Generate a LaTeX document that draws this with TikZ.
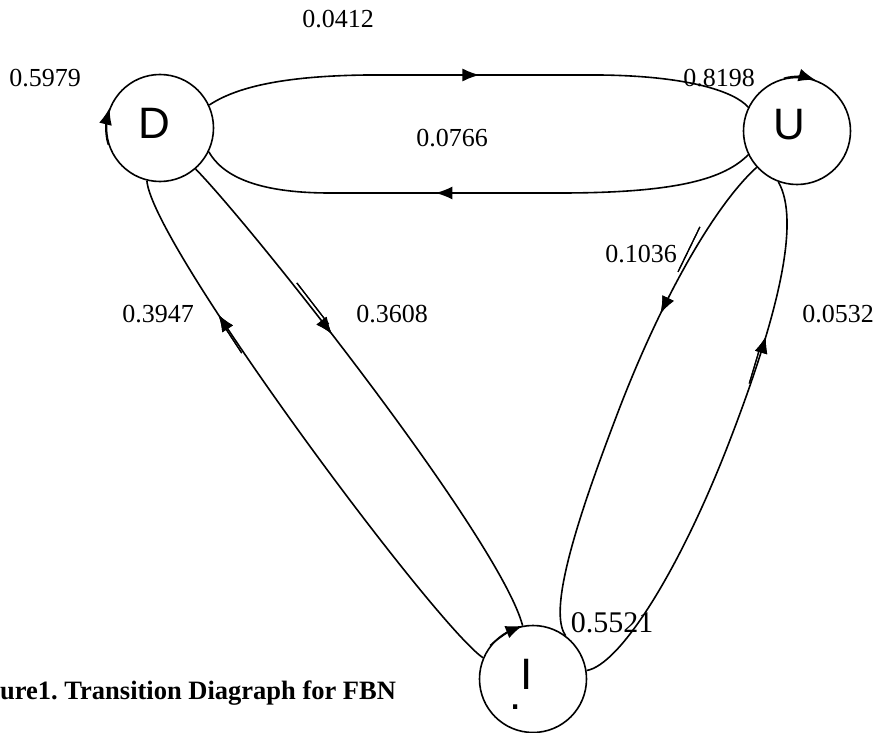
\documentclass[tikz,border=0pt]{standalone}
\usepackage{fontspec}
\setmainfont{Liberation Serif}
\newfontfamily\letterfont{Liberation Sans}
\usetikzlibrary{arrows.meta,decorations.markings}
\begin{document}
\begin{tikzpicture}[x=1pt,y=-1pt,
  state/.style={circle,draw,line width=1.6pt,minimum size=107pt,inner sep=0pt,
    text height=32pt,font=\letterfont\fontsize{44}{44}\selectfont},
  lbl/.style={font=\fontsize{26}{30}\selectfont,inner sep=0pt},
  edge/.style={line width=1.6pt},
  tipend/.style={-{Latex[length=17pt,width=13pt]}},
  midarrow/.style={postaction={decorate},decoration={markings,
    mark=at position #1 with {\arrow{Latex[length=17pt,width=13pt]}}}},
  twin/.style 2 args={postaction={decorate},decoration={markings,
    mark=at position #1 with {\draw[line width=1.2pt] #2;}}},
]
\useasboundingbox (0,0) rectangle (876,733);

% states
\node[state,text depth=10pt] (D) at (160,128) {\hspace*{-12pt}D};
\node[state,text depth=14pt] (U) at (797,131) {\hspace*{-16pt}U};
\node[state,text depth=12pt] (I) at (533,679) {\hspace*{-12pt}I};
\node[font=\letterfont\fontsize{44}{44}\selectfont,inner sep=0pt] (Idot) at (516,707) {.};

% D -> U (top)
\draw[edge,midarrow=0.50] (D.25) .. controls (235,88) and (280,76) .. (367,75)
  -- (600,75) .. controls (690,76) and (735,92) .. (U.154);
% U -> D (bottom)
\draw[edge,midarrow=0.573] (U.206) .. controls (725,178) and (680,193) .. (560,193)
  -- (330,193) .. controls (255,193) and (222,175) .. (D.-26);
% D -> I
\draw[edge,midarrow=0.38,twin={0.38}{(-62pt,3.5pt) -- (-10pt,3.5pt)}]
  (D.-49) .. controls (255,230) and (500,540) .. (I.101);
% I -> D
\draw[edge,midarrow=0.74,twin={0.74}{(-45pt,1.5pt) -- (-12pt,1.5pt)}]
  (I.157) .. controls (435,625) and (152,245) .. (D.-104);
% U -> I
\draw[edge,midarrow=0.34,twin={0.34}{(-95pt,-2.5pt) -- (-45pt,-2.5pt)}]
  (U.222) .. controls (715,205) and (660,300) .. (615,420)
  .. controls (575,525) and (548,612) .. (I.53);
% I -> U
\draw[edge,midarrow=0.71,twin={0.71}{(-50pt,2.5pt) -- (-12pt,2.5pt)}]
  (I.9) .. controls (620,665) and (680,570) .. (730,440)
  .. controls (780,310) and (800,220) .. (U.-110);

% self loops
\draw[edge,tipend] (D.198) .. controls +(-4,-12) and +(-3,12) .. (D.158);
\draw[edge,tipend] (U.104) .. controls +(10,-3) and +(-10,-3) .. (U.70);
\draw[edge,tipend] (I.142) .. controls +(8,-8) and +(-10,4) .. (I.101);

% labels
\node[lbl] (p0412) at (338,19) {0.0412};
\node[lbl] (p5979) at (45,78) {0.5979};
\node[lbl] (p8198) at (719,78) {0.8198};
\node[lbl] (p0766) at (452,138) {0.0766};
\node[lbl] (p3947) at (158,314) {0.3947};
\node[lbl] (p3608) at (392,314) {0.3608};
\node[lbl] (p1036) at (641,254) {0.1036};
\node[lbl] (p0532) at (838,314) {0.0532};
\node[lbl,font=\fontsize{30}{34}\selectfont] (p5521) at (612,623) {0.5521};

% caption
\node[anchor=west,inner sep=0pt,font=\bfseries\fontsize{26.5}{30}\selectfont] (cap)
  at (0,693) {ure1.\ Transition Diagraph for FBN};
\end{tikzpicture}
\end{document}
